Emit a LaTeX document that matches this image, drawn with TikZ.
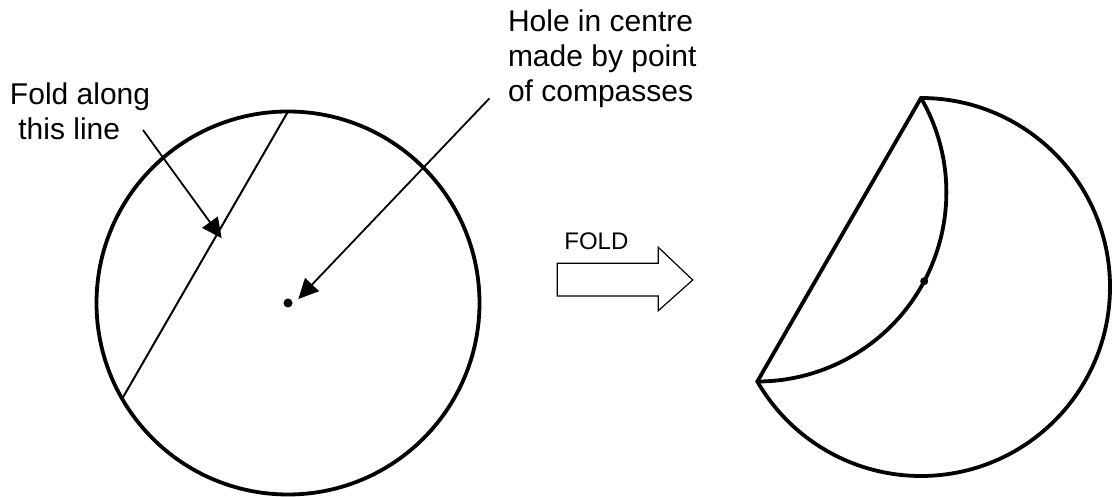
\documentclass[tikz,border=0pt]{standalone}
\usepackage{fontspec}
\setmainfont{Liberation Sans}
\usetikzlibrary{arrows.meta,calc}
\tikzset{
    paper/.style={line width=1.9pt},
    crease/.style={line width=1pt},
    pointer/.style={-{Triangle[length=10pt,width=9.5pt]}, line width=0.9pt},
    callout/.style={align=left, inner sep=0pt, font=\fontsize{15}{17.5}\selectfont},
    hole/.style={circle, fill, inner sep=0pt, minimum size=4.5pt},
    bigarrow/.style={line width=0.6pt, line join=miter}
}

\begin{document}
\begin{tikzpicture}[x=0.5pt, y=0.5pt]
\useasboundingbox (0,0) rectangle (1112,497);

% flat circle with the fold line
\coordinate (cL) at (288,194);
\draw[paper] (cL) circle[radius=191.5];
\coordinate (foldtop) at ($(cL)+(90:191.5)$);
\coordinate (foldend) at ($(cL)+(210:191.5)$);
\draw[crease] (foldtop) -- (foldend);
\node[hole] (holeL) at (cL) {};

% labels and pointers
\node[callout, anchor=north west] (foldtext) at (9.6,415) {Fold along\\\hspace*{.28em}this line};
\node[callout, anchor=north west] (holetext) at (507.6,488) {Hole in centre\\made by point\\of compasses};
\coordinate (foldtail) at (143,367);
\coordinate (foldtip) at (221.7,258.7);
\coordinate (holetail) at (489.5,398.7);
\coordinate (holetip) at (298.3,198);
\draw[pointer] (foldtail) -- (foldtip);
\draw[pointer] (holetail) -- (holetip);

% FOLD arrow
\draw[bigarrow] (557.3,233.7) -- (658.3,233.7) -- (658.3,249.7) -- (692.7,217) -- (658.3,186.3) -- (658.3,201) -- (557.3,201) -- cycle;
\node[anchor=base west, inner sep=0pt, font=\fontsize{12}{14}\selectfont] (foldword) at (564,247) {FOLD};

% folded circle
\coordinate (cR) at (921,210);
\coordinate (flapC) at ($(cR)+(150:189)$);
\coordinate (rtop) at ($(cR)+(90:189)$);
\coordinate (rend) at ($(cR)+(210:189)$);
\draw[paper] (rend) -- (rtop) arc[start angle=90, end angle=-150, radius=189] -- cycle;
\draw[paper] (rtop) arc[start angle=30, end angle=-90, radius=189];
\node[hole, minimum size=4pt] (holeR) at ($(flapC)+(-28:189)$) {};

\end{tikzpicture}
\end{document}
